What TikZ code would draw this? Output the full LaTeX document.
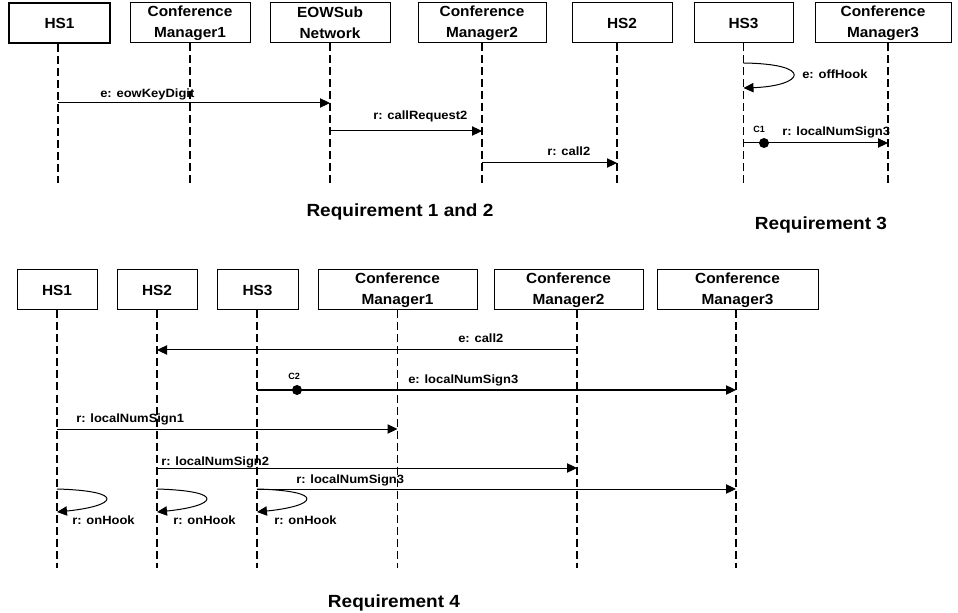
\documentclass[tikz,border=0pt]{standalone}
\usepackage{fontspec}
\setmainfont{Liberation Sans}
\newfontfamily\objfont[FakeStretch=1.05]{Liberation Sans}
\newfontfamily\labfont[FakeStretch=1.08]{Liberation Sans}
\newfontfamily\titlefont[FakeStretch=1.08]{Liberation Sans}
\usetikzlibrary{arrows.meta}

\begin{document}
\begin{tikzpicture}[x=0.75pt,y=-0.75pt,
  obj/.style 2 args={draw, line width=0.75pt, minimum width=#1*0.75pt,
    minimum height=#2*0.75pt, inner sep=0pt, align=center,
    font=\objfont\bfseries\fontsize{11}{15.5}\selectfont},
  life/.style={line width=1.4pt, dash pattern=on 6pt off 3pt},
  msg/.style={line width=0.75pt, -{Triangle[length=7.5pt,width=7pt]}},
  lbl/.style={anchor=base west, inner sep=0pt,
    font=\labfont\bfseries\fontsize{9}{10}\selectfont},
  cond/.style={anchor=base west, inner sep=0pt,
    font=\bfseries\fontsize{6.8}{8}\selectfont},
  dotc/.style={circle, fill=black, minimum size=7.5pt, inner sep=0pt},
  title/.style={anchor=base, inner sep=0pt,
    font=\titlefont\bfseries\fontsize{13.2}{16}\selectfont}
]
\useasboundingbox (0,0) rectangle (958,613);

% ---------- Requirement 1 and 2 / Requirement 3 ----------
\node[obj={101}{40}, line width=1.2pt] (t1) at (59.5,23) {HS1};
\node[obj={120}{40}] (t2) at (190,23) {Conference\\Manager1};
\node[obj={120}{40}] (t3) at (330,23) {EOWSub\\Network};
\node[obj={128}{40}] (t4) at (482,23) {Conference\\Manager2};
\node[obj={100}{40}] (t5) at (622,23) {HS2};
\node[obj={99}{40}]  (t6) at (743.5,23) {HS3};
\node[obj={136}{40}] (t7) at (883,23) {Conference\\Manager3};

\coordinate (t1top) at ([xshift=-1.1pt]t1.south);
\coordinate (t2top) at (t2.south);
\coordinate (t3top) at (t3.south);
\coordinate (t4top) at (t4.south);
\coordinate (t5top) at ([xshift=-3.75pt]t5.south);
\coordinate (t6top) at (t6.south);
\coordinate (t7top) at ([xshift=3.75pt]t7.south);

\foreach \n in {t1,t2,t3,t4,t5,t6,t7}{
  \coordinate (\n end) at (\n top |- 0,183);
  \draw[life] (\n top) -- (\n end);
}

\draw[msg] (t1top |- 0,103) -- (t3top |- 0,103);
\node[lbl] (m1) at (100,98) {e: eowKeyDigit};

\draw[msg] (t3top |- 0,131) -- (t4top |- 0,131);
\node[lbl] (m2) at (373,120) {r: callRequest2};

\draw[msg] (t4top |- 0,163) -- (t5top |- 0,163);
\node[lbl] (m3) at (547,156) {r: call2};

\draw[msg] (t6top |- 0,63) .. controls +(72,1) and +(60,-2) .. (t6top |- 0,88);
\node[lbl] (m4) at (802,79) {e: offHook};

\draw[msg] (t6top |- 0,143) -- (t7top |- 0,143);
\node[dotc] (c1dot) at (764,143) {};
\node[cond] (c1) at (753,133) {C1};
\node[lbl] (m5) at (782,136) {r: localNumSign3};

\node[title] (req12) at (400,217) {Requirement 1 and 2};
\node[title] (req3) at (821,230) {Requirement 3};

% ---------- Requirement 4 ----------
\node[obj={80}{40}]  (b1) at (57,290) {HS1};
\node[obj={80}{40}]  (b2) at (157,290) {HS2};
\node[obj={81}{40}]  (b3) at (257.5,290) {HS3};
\node[obj={159}{40}] (b4) at (397.5,290) {Conference\\Manager1};
\node[obj={149}{40}] (b5) at (568.5,290) {Conference\\Manager2};
\node[obj={161}{40}] (b6) at (737.5,290) {Conference\\Manager3};

\coordinate (b1top) at (b1.south);
\coordinate (b2top) at (b2.south);
\coordinate (b3top) at ([xshift=-0.4pt]b3.south);
\coordinate (b4top) at (b4.south);
\coordinate (b5top) at ([xshift=6.4pt]b5.south);
\coordinate (b6top) at ([xshift=-1.1pt]b6.south);

\foreach \n in {b1,b2,b3,b4,b5,b6}{
  \coordinate (\n end) at (\n top |- 0,568);
  \draw[life] (\n top) -- (\n end);
}

\draw[msg] (b5top |- 0,350) -- (b2top |- 0,350);
\node[lbl] (n1) at (458,343) {e: call2};

\draw[msg] (b3top |- 0,390) -- (b6top |- 0,390);
\node[dotc] (c2dot) at (297,390) {};
\node[cond] (c2) at (288,379) {C2};
\node[lbl] (n2) at (408,383) {e: localNumSign3};

\draw[msg] (b1top |- 0,429) -- (b4top |- 0,429);
\node[lbl] (n3) at (76,422) {r: localNumSign1};

\draw[msg] (b2top |- 0,468) -- (b5top |- 0,468);
\node[lbl] (n4) at (161,465) {r: localNumSign2};

\draw[msg] (b3top |- 0,489) -- (b6top |- 0,489);
\node[lbl] (n5) at (296,483) {r: localNumSign3};

\foreach \n/\lx in {b1/72,b2/173,b3/274}{
  \draw[msg] (\n top |- 0,489) .. controls +(70,2) and +(60,-6) .. (\n top |- 0,512);
  \node[lbl] (\n hook) at (\lx,524) {r: onHook};
}

\node[title] (req4) at (394,607) {Requirement 4};
\end{tikzpicture}
\end{document}
